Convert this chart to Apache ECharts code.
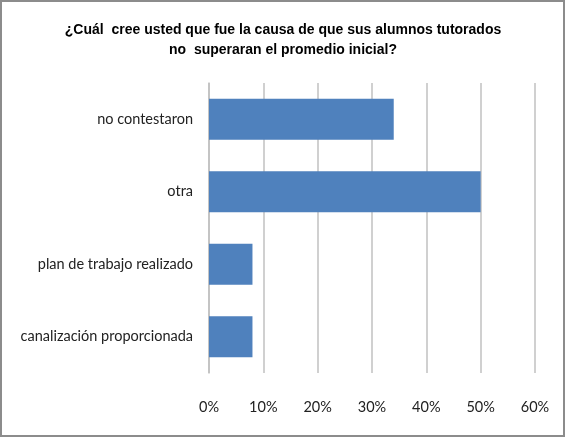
<!DOCTYPE html>
<html>
<head>
<meta charset="utf-8">
<script src="https://cdn.jsdelivr.net/npm/echarts@6/dist/echarts.min.js"></script>
<style>
  html, body { margin: 0; padding: 0; background: #fff; }
  #main { width: 566px; height: 438px; }
</style>
</head>
<body>
<div id="main"></div>
<script>
// categorias de arriba hacia abajo (eje invertido)
var categories = ["no contestaron", "otra", "plan de trabajo realizado", "canalización proporcionada"];
var values = [34, 50, 8, 8];
var ticks = [0, 10, 20, 30, 40, 50, 60];

var myChart = echarts.init(document.getElementById("main"));
var option = {
  animation: false,
  backgroundColor: "#fff",
  title: {
    text: "¿Cuál  cree usted que fue la causa de que sus alumnos tutorados\nno  superaran el promedio inicial?",
    left: "center",
    top: 15,
    textStyle: {
      fontFamily: "Liberation Sans",
      fontWeight: "bold",
      fontSize: 14,
      lineHeight: 20,
      color: "#000"
    }
  },
  graphic: [
    {
      type: "rect",
      shape: { x: 1, y: 1, width: 563, height: 435 },
      style: { fill: "none", stroke: "#8c8c8c", lineWidth: 2 }
    }
  ],
  grid: {
    left: 209,
    right: 31,
    top: 83,
    bottom: 65
  },
  xAxis: {
    type: "value",
    min: ticks[0],
    max: ticks[ticks.length - 1],
    interval: 10,
    axisLine: { show: false },
    axisTick: { show: false },
    splitLine: {
      show: true,
      lineStyle: { color: "#c0c0c0", width: 1.5 }
    },
    axisLabel: {
      formatter: "{value}%",
      margin: 27,
      color: "#222",
      fontFamily: "Lato",
      fontSize: 14.5
    }
  },
  yAxis: {
    type: "category",
    inverse: true,
    data: categories,
    axisLine: { show: true, lineStyle: { color: "#c0c0c0", width: 1.5 } },
    axisTick: { show: false },
    axisLabel: {
      margin: 16,
      color: "#222",
      fontFamily: "Lato",
      fontSize: 14.5
    }
  },
  series: [
    {
      type: "bar",
      data: values,
      barWidth: 41,
      itemStyle: { color: "#4f81bd" }
    }
  ]
};
myChart.setOption(option);
</script>
</body>
</html>
